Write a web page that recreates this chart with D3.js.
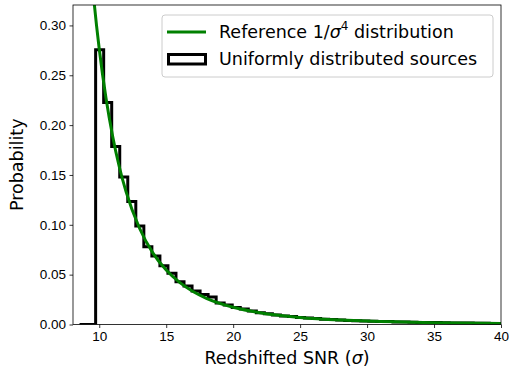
<!DOCTYPE html>
<html lang="en">
<head>
  <meta charset="UTF-8">
  <title>Redshifted SNR distribution</title>
  <script src="https://d3js.org/d3.v7.min.js"></script>
  <style>
    body { margin: 0; background: #fff; }
    svg { display: block; font-family: "DejaVu Sans", sans-serif; }
    .tick text { font-size: 13.5px; fill: #000; }
  </style>
</head>
<body>
  <svg id="chart" width="509" height="369"></svg>
  <script>
    // Histogram: bins of equal width, starting at binStart
    const binStart = 8.53;
    const binWidth = 0.6;
    const histValues = [
      0, 0, 0.2756, 0.2227, 0.1785, 0.1480, 0.1233, 0.0989, 0.0781, 0.0688,
      0.0590, 0.0515, 0.0430, 0.0385, 0.0335, 0.0300, 0.0275, 0.0215, 0.0195, 0.0170,
      0.0155, 0.0135, 0.0118, 0.0108, 0.0096, 0.0085, 0.0080, 0.0071, 0.0064, 0.0060,
      0.0052, 0.0049, 0.0046, 0.0041, 0.0038, 0.0036, 0.0032, 0.0030, 0.0029, 0.0026,
      0.0024, 0.0023, 0.0021, 0.0020, 0.0019, 0.0017, 0.0016, 0.0015, 0.0014, 0.0013,
      0.0012, 0.0011, 0.0011
    ];

    // Reference 1/sigma^4 curve
    const refSigma = [9.6, 9.8, 10, 10.5, 11, 11.5, 12, 13, 14, 15, 16, 17, 18, 20, 22, 25, 28, 30, 35, 40];
    const refProb = [0.3254, 0.2996, 0.2764, 0.2274, 0.1888, 0.1580, 0.1333, 0.0968, 0.0719, 0.0546,
                     0.0422, 0.0331, 0.0263, 0.0173, 0.0118, 0.0071, 0.0045, 0.0034, 0.0018, 0.0011];

    const xTicks = [10, 15, 20, 25, 30, 35, 40];
    const yTicks = [0, 0.05, 0.10, 0.15, 0.20, 0.25, 0.30];

    const svg = d3.select("#chart"),
          margin = {top: 5, right: 8, bottom: 44.5, left: 73},
          width = 509 - margin.left - margin.right,
          height = 369 - margin.top - margin.bottom;

    const g = svg.append("g")
                 .attr("transform", `translate(${margin.left},${margin.top})`);

    const x = d3.scaleLinear().domain([8.04, 40]).range([0, width]);
    const y = d3.scaleLinear().domain([0, 0.3205]).range([height, 0]);

    // clip to the axes area
    g.append("clipPath").attr("id", "clip")
     .append("rect").attr("width", width).attr("height", height);

    // step histogram outline
    const stepPts = [[binStart, 0]];
    histValues.forEach((v, i) => {
      stepPts.push([binStart + i * binWidth, v]);
      stepPts.push([binStart + (i + 1) * binWidth, v]);
    });
    stepPts.push([binStart + histValues.length * binWidth, 0]);

    const line = d3.line().x(d => x(d[0])).y(d => y(d[1]));

    g.append("path")
     .datum(stepPts)
     .attr("clip-path", "url(#clip)")
     .attr("fill", "none")
     .attr("stroke", "#000")
     .attr("stroke-width", 3)
     .attr("stroke-linejoin", "miter")
     .attr("d", line);

    // reference curve
    const curve = d3.line()
                    .x(d => x(d[0]))
                    .y(d => y(d[1]))
                    .curve(d3.curveMonotoneX);

    g.append("path")
     .datum(refSigma.map((s, i) => [s, refProb[i]]))
     .attr("clip-path", "url(#clip)")
     .attr("fill", "none")
     .attr("stroke", "#008000")
     .attr("stroke-width", 3)
     .attr("d", curve);

    // axes
    const xAxis = g.append("g")
     .attr("transform", `translate(0,${height})`)
     .call(d3.axisBottom(x).tickValues(xTicks).tickSize(3.5).tickPadding(3.5).tickFormat(d3.format("d")));

    const yAxis = g.append("g")
     .call(d3.axisLeft(y).tickValues(yTicks).tickSize(3.5).tickPadding(3.5).tickFormat(d3.format(".2f")));

    [xAxis, yAxis].forEach(a => {
      a.select(".domain").remove();
      a.selectAll(".tick line").attr("stroke", "#000").attr("stroke-width", 0.8);
    });

    // spines
    g.append("rect")
     .attr("width", width).attr("height", height)
     .attr("fill", "none").attr("stroke", "#000").attr("stroke-width", 0.8);

    // axis labels
    const xl = svg.append("text")
     .attr("x", margin.left + width / 2)
     .attr("y", 364)
     .attr("text-anchor", "middle")
     .attr("font-size", 17.5);
    xl.append("tspan").text("Redshifted SNR (");
    xl.append("tspan").attr("font-style", "italic").text("σ");
    xl.append("tspan").text(")");

    svg.append("text")
     .attr("transform", `translate(23,${margin.top + height / 2}) rotate(-90)`)
     .attr("text-anchor", "middle")
     .attr("font-size", 17.5)
     .text("Probability");

    // legend
    const lg = svg.append("g").attr("transform", "translate(162,15)");
    lg.append("rect")
      .attr("width", 331).attr("height", 62).attr("rx", 3)
      .attr("fill", "#fff").attr("fill-opacity", 0.8)
      .attr("stroke", "#ccc").attr("stroke-width", 1);

    lg.append("line")
      .attr("x1", 5).attr("x2", 44).attr("y1", 17).attr("y2", 17)
      .attr("stroke", "#008000").attr("stroke-width", 3);
    const t1 = lg.append("text").attr("x", 57).attr("y", 22.5).attr("font-size", 17.5);
    t1.append("tspan").text("Reference 1/");
    t1.append("tspan").attr("font-style", "italic").text("σ");
    t1.append("tspan").attr("font-size", 12).attr("dy", -7.5).text("4");
    t1.append("tspan").attr("dy", 7.5).text(" distribution");

    lg.append("rect")
      .attr("x", 6.5).attr("y", 39.5).attr("width", 37).attr("height", 9.5)
      .attr("fill", "#fff").attr("stroke", "#000").attr("stroke-width", 3);
    lg.append("text").attr("x", 57).attr("y", 50).attr("font-size", 17.5)
      .text("Uniformly distributed sources");
  </script>
</body>
</html>
